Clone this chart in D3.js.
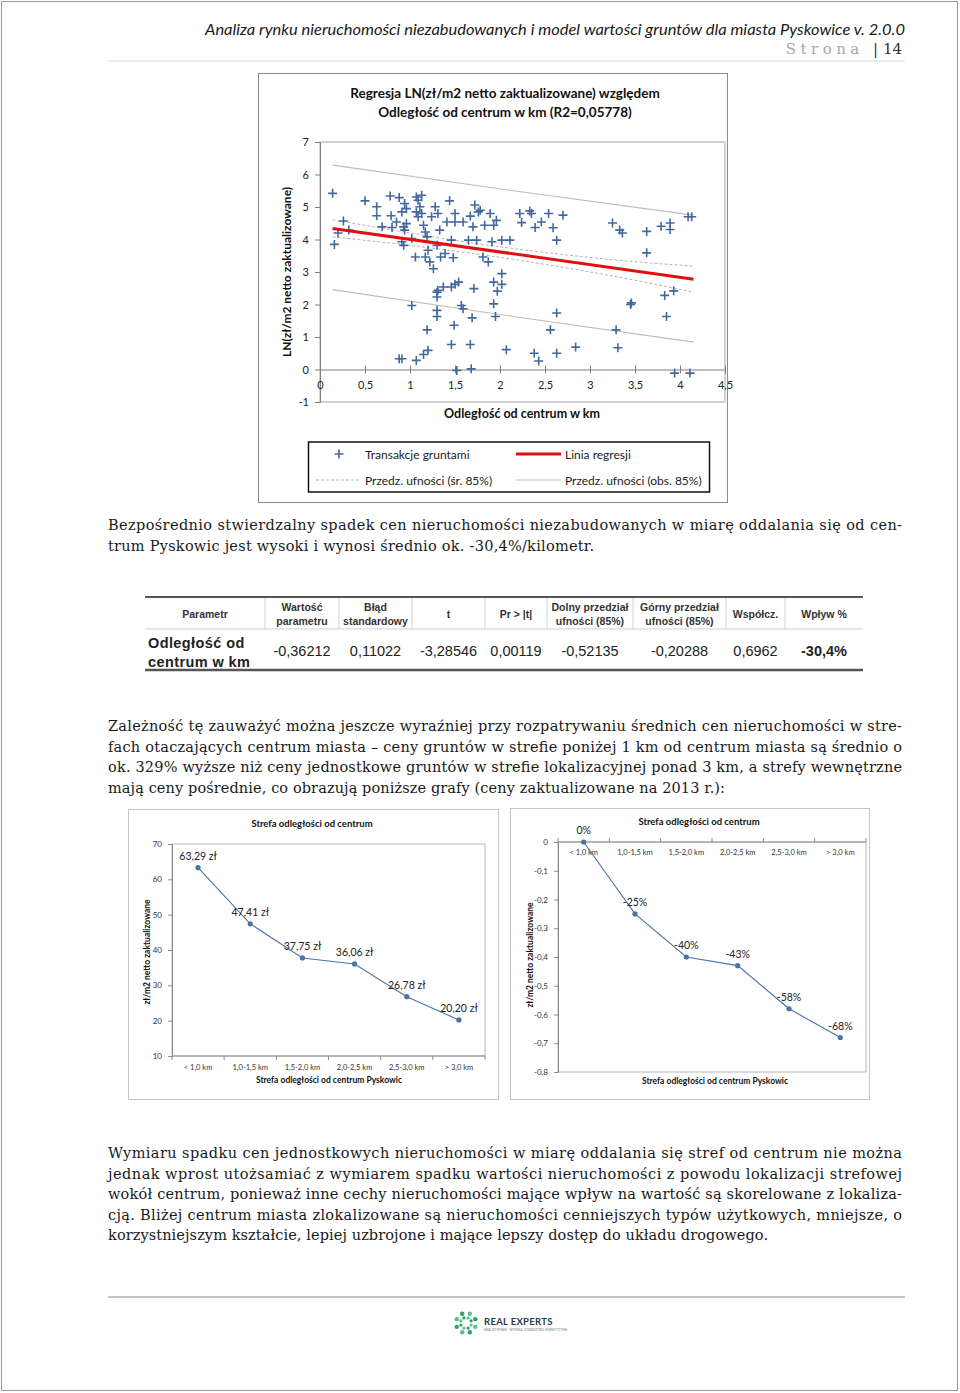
<!DOCTYPE html>
<html>
<head>
<meta charset="utf-8">
<script src="https://cdn.jsdelivr.net/npm/d3@7"></script>
<style>
  body { margin: 0; background: #fff; }
  svg { display: block; }
</style>
</head>
<body>
<div id="page"></div>
<script>
// --- dane wykresu regresji ---
const transakcje = [
  [0.14,5.42],[0.16,3.85],[0.20,4.20],[0.26,4.57],[0.32,4.29],[0.50,5.19],[0.63,5.01],[0.63,4.73],
  [0.69,4.39],[0.78,5.34],[0.79,4.73],[0.80,4.37],[0.85,4.54],[0.88,5.29],[0.91,4.85],[0.91,3.93],
  [0.93,3.82],[0.93,4.39],[0.94,5.11],[0.94,4.29],[0.96,4.95],[0.96,4.49],[1.02,4.03],[1.06,3.46],
  [1.07,5.31],[1.07,4.85],[1.09,5.21],[1.09,4.70],[1.11,5.01],[1.13,5.36],[1.13,4.80],[1.15,4.44],
  [1.17,3.46],[1.17,4.23],[1.19,4.08],[1.20,3.67],[1.22,3.31],[1.24,4.70],[1.26,3.10],[1.28,5.01],
  [1.30,3.82],[1.31,4.80],[1.33,4.29],[1.34,3.46],[1.39,3.57],[1.41,4.54],[1.44,5.19],[1.46,3.98],
  [1.48,3.44],[1.50,4.80],[1.50,4.54],[1.59,4.54],[1.65,3.98],[1.67,4.72],[1.70,4.39],[1.72,5.06],
  [1.74,3.98],[1.76,4.85],[1.78,4.90],[1.81,3.46],[1.83,4.44],[1.87,3.31],[1.89,4.80],[1.91,3.93],
  [1.93,4.44],[1.96,4.59],[2.02,3.98],[2.11,3.98],[2.22,4.80],[2.24,4.52],[2.33,4.88],[2.35,4.80],
  [2.39,4.37],[2.46,4.54],[2.54,4.80],[2.59,4.36],[2.63,3.98],[2.70,4.75],[3.25,4.51],[3.33,4.29],
  [3.36,4.20],[3.63,4.25],[3.63,3.59],[3.79,4.41],[3.89,4.51],[3.89,4.31],[4.09,4.70],[4.13,4.70],
  [1.31,2.44],[1.30,2.38],[1.37,2.54],[1.46,2.54],[1.50,2.62],[1.54,2.69],[1.71,2.49],[1.93,2.69],
  [2.02,2.95],[2.02,2.62],[1.97,2.41],
  [0.88,0.33],[0.91,0.33],[1.02,1.97],[1.07,0.28],[1.15,0.46],[1.19,1.22],[1.20,0.59],[1.30,2.23],
  [1.30,1.82],[1.30,1.63],[1.46,0.77],[1.49,1.36],[1.52,-0.03],[1.57,1.97],[1.59,1.87],[1.67,0.77],
  [1.69,1.59],[1.68,0.02],[1.93,2.02],[1.95,1.63],[2.07,0.61],[2.38,0.50],[2.43,0.26],[2.56,1.22],
  [2.63,1.74],[2.63,0.50],[2.84,0.69],[3.29,1.22],[3.31,0.67],[3.46,2.05],[3.45,2.00],[3.85,1.63],
  [3.94,-0.11],[4.11,-0.11],[3.83,2.28],[3.93,2.42]
];
const liniaRegresji = [[0.14,4.34],[4.15,2.78]];
const przedzSrGorny = [[0.14,4.61],[1.0,4.20],[1.8,3.85],[2.6,3.57],[3.4,3.34],[4.15,3.18]];
const przedzSrDolny = [[0.14,4.08],[1.0,3.82],[1.8,3.53],[2.6,3.19],[3.4,2.80],[4.15,2.38]];
const przedzObsGorny = [[0.14,6.29],[2.15,5.50],[4.15,4.75]];
const przedzObsDolny = [[0.14,2.46],[2.15,1.63],[4.15,0.84]];
const ticksX = [0, 0.5, 1, 1.5, 2, 2.5, 3, 3.5, 4, 4.5];
const ticksY = [-1, 0, 1, 2, 3, 4, 5, 6, 7];

// --- tabela parametrow ---
const kolumny = ["Parametr", "Wartość\nparametru", "Błąd\nstandardowy", "t", "Pr > |t|",
  "Dolny przedział\nufności (85%)", "Górny przedział\nufności (85%)", "Współcz.", "Wpływ %"];
const wiersz = ["Odległość od\ncentrum w km", "-0,36212", "0,11022", "-3,28546", "0,00119",
  "-0,52135", "-0,20288", "0,6962", "-30,4%"];

// --- strefy ---
const strefy = ["< 1,0 km", "1,0-1,5 km", "1,5-2,0 km", "2,0-2,5 km", "2,5-3,0 km", "> 3,0 km"];
const cenyStref = [63.29, 47.41, 37.75, 36.06, 26.78, 20.20];
const spadekStref = [0, -0.25, -0.40, -0.43, -0.58, -0.68];
const ticksCeny = [10, 20, 30, 40, 50, 60, 70];
const ticksSpadek = [-0.8, -0.7, -0.6, -0.5, -0.4, -0.3, -0.2, -0.1, 0];

// --- teksty ---
const naglowek = "Analiza rynku nieruchomości niezabudowanych i model wartości gruntów dla miasta Pyskowice v. 2.0.0";
const akapit1 = [
  "Bezpośrednio stwierdzalny spadek cen nieruchomości niezabudowanych w miarę oddalania się od cen-",
  "trum Pyskowic jest wysoki i wynosi średnio ok. -30,4%/kilometr."
];
const akapit2 = [
  "Zależność tę zauważyć można jeszcze wyraźniej przy rozpatrywaniu średnich cen nieruchomości w stre-",
  "fach otaczających centrum miasta – ceny gruntów w strefie poniżej 1 km od centrum miasta są średnio o",
  "ok. 329% wyższe niż ceny jednostkowe gruntów w strefie lokalizacyjnej ponad 3 km, a strefy wewnętrzne",
  "mają ceny pośrednie, co obrazują poniższe grafy (ceny zaktualizowane na 2013 r.):"
];
const akapit3 = [
  "Wymiaru spadku cen jednostkowych nieruchomości w miarę oddalania się stref od centrum nie można",
  "jednak wprost utożsamiać z wymiarem spadku wartości nieruchomości z powodu lokalizacji strefowej",
  "wokół centrum, ponieważ inne cechy nieruchomości mające wpływ na wartość są skorelowane z lokaliza-",
  "cją. Bliżej centrum miasta zlokalizowane są nieruchomości cenniejszych typów użytkowych, mniejsze, o",
  "korzystniejszym kształcie, lepiej uzbrojone i mające lepszy dostęp do układu drogowego."
];

const comma = d => String(d).replace(".", ",");
const SANS = "Lato, 'Open Sans', sans-serif";
const SERIF = "'DejaVu Serif', serif";
const ARIAL = "'Liberation Sans', Arial, sans-serif";

const svg = d3.select("#page").append("svg")
  .attr("width", 960).attr("height", 1393)
  .attr("viewBox", [0, 0, 960, 1393]);

// ramka strony
svg.append("rect").attr("x", 1.5).attr("y", 1.5).attr("width", 956).attr("height", 1389)
  .attr("fill", "none").attr("stroke", "#9a9a9a");

// naglowek
svg.append("text").attr("x", 905).attr("y", 35).attr("text-anchor", "end")
  .attr("textLength", 700).attr("lengthAdjust", "spacingAndGlyphs")
  .style("font", "italic 14.5px " + SANS).attr("fill", "#1a1a1a").text(naglowek);
const strona = svg.append("text").attr("x", 902).attr("y", 54).attr("text-anchor", "end")
  .style("font-family", SERIF).style("font-size", "15px");
strona.append("tspan").attr("fill", "#a6a6a6").attr("letter-spacing", "4.5px").text("Strona ");
strona.append("tspan").attr("fill", "#333").text("| 14");
svg.append("line").attr("x1", 108).attr("x2", 905).attr("y1", 61).attr("y2", 61)
  .attr("stroke", "#d8d8d8").attr("stroke-width", 1.2);

// ========== wykres regresji ==========
const sc = svg.append("g");
sc.append("rect").attr("x", 258.5).attr("y", 73.5).attr("width", 469).attr("height", 429)
  .attr("fill", "none").attr("stroke", "#8c8c8c");

const x = d3.scaleLinear().domain([0, 4.5]).range([320, 725]);
const y = d3.scaleLinear().domain([-1, 7]).range([402, 142]);

sc.append("text").attr("x", 505).attr("y", 98).attr("text-anchor", "middle")
  .style("font", "bold 13.5px " + SANS).attr("fill", "#111")
  .text("Regresja LN(zł/m2 netto zaktualizowane) względem");
sc.append("text").attr("x", 505).attr("y", 117).attr("text-anchor", "middle")
  .style("font", "bold 13.5px " + SANS).attr("fill", "#111")
  .text("Odległość od centrum w km (R2=0,05778)");

sc.append("rect").attr("x", x(0)).attr("y", y(7)).attr("width", x(4.5) - x(0)).attr("height", y(-1) - y(7))
  .attr("fill", "none").attr("stroke", "#a6a6a6");

const yAx = sc.append("g").attr("transform", `translate(${x(0)},0)`)
  .call(d3.axisLeft(y).tickValues(ticksY).tickSize(5).tickPadding(6).tickFormat(comma));
yAx.select(".domain").attr("stroke", "#7f7f7f");
yAx.selectAll(".tick line").attr("stroke", "#7f7f7f");
yAx.selectAll("text").style("font", "11px " + SANS).attr("fill", "#222");

const xAx = sc.append("g").attr("transform", `translate(0,${y(0)})`)
  .call(d3.axisBottom(x).tickValues(ticksX).tickSize(4).tickPadding(8).tickFormat(comma));
xAx.select(".domain").attr("stroke", "#7f7f7f");
xAx.selectAll(".tick line").attr("stroke", "#7f7f7f").attr("y1", -4).attr("y2", 4);
xAx.selectAll("text").style("font", "11px " + SANS).attr("fill", "#222");

sc.append("text").attr("transform", "translate(291,272) rotate(-90)").attr("text-anchor", "middle")
  .style("font", "bold 12px " + SANS).attr("fill", "#111").text("LN(zł/m2 netto zaktualizowane)");
sc.append("text").attr("x", 522).attr("y", 418).attr("text-anchor", "middle")
  .style("font", "bold 12.5px " + SANS).attr("fill", "#111").text("Odległość od centrum w km");

const line = d3.line().x(d => x(d[0])).y(d => y(d[1])).curve(d3.curveMonotoneX);
[przedzObsGorny, przedzObsDolny].forEach(p =>
  sc.append("path").attr("d", line(p)).attr("fill", "none").attr("stroke", "#bdbdbd").attr("stroke-width", 1.2));
[przedzSrGorny, przedzSrDolny].forEach(p =>
  sc.append("path").attr("d", line(p)).attr("fill", "none").attr("stroke", "#b5b5b5")
    .attr("stroke-width", 1).attr("stroke-dasharray", "3,2"));

const plus = "M-4.5,0H4.5M0,-4.5V4.5";
sc.append("g").selectAll("path").data(transakcje).join("path")
  .attr("transform", d => `translate(${x(d[0])},${y(d[1])})`)
  .attr("d", plus).attr("stroke", "#44689e").attr("stroke-width", 1.6).attr("fill", "none");

sc.append("path").attr("d", line(liniaRegresji)).attr("fill", "none")
  .attr("stroke", "#e01010").attr("stroke-width", 3);

// legenda
const lg = sc.append("g");
lg.append("rect").attr("x", 308.5).attr("y", 442).attr("width", 401).attr("height", 50)
  .attr("fill", "#fff").attr("stroke", "#111").attr("stroke-width", 1.5);
lg.append("path").attr("transform", "translate(339,454)").attr("d", plus)
  .attr("stroke", "#44689e").attr("stroke-width", 1.6);
lg.append("line").attr("x1", 516).attr("x2", 561).attr("y1", 454).attr("y2", 454)
  .attr("stroke", "#e01010").attr("stroke-width", 3);
lg.append("line").attr("x1", 316).attr("x2", 361).attr("y1", 480).attr("y2", 480)
  .attr("stroke", "#b5b5b5").attr("stroke-dasharray", "3,2");
lg.append("line").attr("x1", 516).attr("x2", 561).attr("y1", 480).attr("y2", 480)
  .attr("stroke", "#bdbdbd").attr("stroke-width", 1.2);
[["Transakcje gruntami", 365, 459], ["Linia regresji", 565, 459],
 ["Przedz. ufności (śr. 85%)", 365, 485], ["Przedz. ufności (obs. 85%)", 565, 485]]
  .forEach(([t, tx, ty]) => lg.append("text").attr("x", tx).attr("y", ty)
    .style("font", "12px " + SANS).attr("fill", "#222").text(t));

// ========== akapity ==========
function akapit(lines, y0, lastWidth) {
  lines.forEach((t, i) => {
    const last = i === lines.length - 1;
    svg.append("text").attr("x", 108).attr("y", y0 + i * 20.5)
      .attr("textLength", last ? lastWidth : 794).attr("lengthAdjust", "spacing")
      .style("font", "14.5px " + SERIF).attr("fill", "#1a1a1a").text(t);
  });
}
akapit(akapit1, 530, 486);
akapit(akapit2, 731, 617);
akapit(akapit3, 1158, 660);

// ========== tabela ==========
const colEdges = [145, 265, 339, 412, 485, 547, 633, 726, 785, 863];
const tb = svg.append("g");
colEdges.slice(1, -1).forEach(cx => tb.append("line").attr("x1", cx).attr("x2", cx)
  .attr("y1", 598).attr("y2", 629).attr("stroke", "#d0d0d0"));
tb.append("line").attr("x1", 145).attr("x2", 863).attr("y1", 629).attr("y2", 629).attr("stroke", "#cfcfcf");
tb.append("line").attr("x1", 145).attr("x2", 863).attr("y1", 597).attr("y2", 597).attr("stroke", "#555").attr("stroke-width", 2);
tb.append("line").attr("x1", 145).attr("x2", 863).attr("y1", 670).attr("y2", 670).attr("stroke", "#555").attr("stroke-width", 2.5);
kolumny.forEach((k, i) => {
  const cx = (colEdges[i] + colEdges[i + 1]) / 2;
  const parts = k.split("\n");
  parts.forEach((p, j) => tb.append("text").attr("x", cx)
    .attr("y", parts.length === 1 ? 618 : 611 + j * 14).attr("text-anchor", "middle")
    .style("font", "bold 10.5px " + ARIAL).attr("fill", "#333").text(p));
});
wiersz.forEach((w, i) => {
  if (i === 0) {
    w.split("\n").forEach((p, j) => tb.append("text").attr("x", 148).attr("y", 648 + j * 19)
      .attr("letter-spacing", "0.4px")
      .style("font", "bold 14.5px " + ARIAL).attr("fill", "#222").text(p));
  } else {
    tb.append("text").attr("x", (colEdges[i] + colEdges[i + 1]) / 2).attr("y", 656)
      .attr("text-anchor", "middle")
      .style("font", (i === wiersz.length - 1 ? "bold " : "") + "14.5px " + ARIAL)
      .attr("fill", "#222").text(w);
  }
});

// ========== wykresy stref ==========
function strefaChart(o) {
  const g = svg.append("g");
  g.append("rect").attr("x", o.frame[0] + 0.5).attr("y", o.frame[1] + 0.5)
    .attr("width", o.frame[2]).attr("height", o.frame[3])
    .attr("fill", "none").attr("stroke", "#c4c4c4");
  const bx = d3.scaleBand().domain(strefy).range([o.plot[0], o.plot[2]]);
  const by = d3.scaleLinear().domain(o.domain).range([o.plot[3], o.plot[1]]);
  g.append("rect").attr("x", o.plot[0]).attr("y", o.plot[1])
    .attr("width", o.plot[2] - o.plot[0]).attr("height", o.plot[3] - o.plot[1])
    .attr("fill", "none").attr("stroke", "#b8b8b8");

  const ya = g.append("g").attr("transform", `translate(${o.plot[0]},0)`)
    .call(d3.axisLeft(by).tickValues(o.ticks).tickSize(4).tickPadding(6).tickFormat(comma));
  ya.select(".domain").attr("stroke", "#8c8c8c");
  ya.selectAll(".tick line").attr("stroke", "#8c8c8c");
  ya.selectAll("text").style("font", "8px " + SANS).attr("fill", "#333");

  const axisY = by(o.axisAt);
  g.append("line").attr("x1", o.plot[0]).attr("x2", o.plot[2]).attr("y1", axisY).attr("y2", axisY)
    .attr("stroke", "#8c8c8c");
  d3.range(strefy.length + 1).forEach(i => {
    const tx = o.plot[0] + i * bx.step();
    g.append("line").attr("x1", tx).attr("x2", tx).attr("y1", axisY + o.tickDir[0]).attr("y2", axisY + o.tickDir[1])
      .attr("stroke", "#8c8c8c");
  });
  g.selectAll(".cat").data(strefy).join("text")
    .attr("x", d => bx(d) + bx.bandwidth() / 2).attr("y", axisY + o.catDy)
    .attr("text-anchor", "middle").style("font", "7.5px " + SANS).attr("fill", "#333").text(d => d);

  const pts = o.values.map((v, i) => [bx(strefy[i]) + bx.bandwidth() / 2, by(v)]);
  g.append("path").attr("d", d3.line()(pts)).attr("fill", "none").attr("stroke", "#4a74a8").attr("stroke-width", 1.1);
  g.selectAll("circle").data(pts).join("circle").attr("cx", d => d[0]).attr("cy", d => d[1])
    .attr("r", 2.6).attr("fill", "#4a74a8");
  g.selectAll(".lab").data(o.values).join("text")
    .attr("x", (d, i) => pts[i][0] + o.labDx).attr("y", (d, i) => pts[i][1] - 8)
    .attr("text-anchor", "middle").style("font", "10.5px " + SANS).attr("fill", "#222").text(o.label);

  g.append("text").attr("x", o.titleX).attr("y", o.titleY).attr("text-anchor", "middle")
    .style("font", "bold 9.5px " + SANS).attr("fill", "#111").text("Strefa odległości od centrum");
  g.append("text").attr("x", o.xTitleX).attr("y", o.xTitleY).attr("text-anchor", "middle")
    .style("font", "bold 8.5px " + SANS).attr("fill", "#111").text("Strefa odległości od centrum Pyskowic");
  g.append("text").attr("transform", `translate(${o.yTitle[0]},${o.yTitle[1]}) rotate(-90)`)
    .attr("text-anchor", "middle").style("font", "bold 8.5px " + SANS).attr("fill", "#111")
    .text("zł/m2 netto zaktualizowane");
}

strefaChart({
  frame: [128, 809, 370, 290], plot: [172, 844, 485, 1056], domain: [10, 70], ticks: ticksCeny,
  values: cenyStref, axisAt: 10, tickDir: [0, 4], catDy: 14, labDx: 0,
  label: d => d3.format(".2f")(d).replace(".", ",") + " zł",
  titleX: 312, titleY: 827, xTitleX: 329, xTitleY: 1083, yTitle: [150, 952]
});
strefaChart({
  frame: [510, 808, 359, 291], plot: [558, 842, 866, 1072], domain: [-0.8, 0], ticks: ticksSpadek,
  values: spadekStref, axisAt: 0, tickDir: [-4, 0], catDy: 13, labDx: 0,
  label: d => Math.round(d * 100) + "%",
  titleX: 699, titleY: 825, xTitleX: 715, xTitleY: 1084, yTitle: [533, 955]
});

// ========== stopka ==========
svg.append("line").attr("x1", 108).attr("x2", 905).attr("y1", 1297).attr("y2", 1297)
  .attr("stroke", "#8a8a8a").attr("stroke-width", 1.2);
const logo = svg.append("g").attr("transform", "translate(466,1323)");
d3.range(8).forEach(i => {
  const a = i * Math.PI / 4 + Math.PI / 8;
  [5.5, 10].forEach((r, j) => logo.append("circle")
    .attr("cx", Math.cos(a) * r).attr("cy", Math.sin(a) * r).attr("r", j ? 2.2 : 1.6)
    .attr("fill", i % 2 ? "#2f9e6b" : "#5fbf8a"));
});
svg.append("text").attr("x", 484).attr("y", 1325).style("font", "bold 9.5px " + SANS)
  .attr("fill", "#2b3a4a").attr("letter-spacing", "0.3px").text("REAL EXPERTS");
svg.append("text").attr("x", 484).attr("y", 1331).style("font", "3px " + SANS)
  .attr("fill", "#777").text("ANALIZY RYNKU · WYCENA · DORADZTWO INWESTYCYJNE");
</script>
</body>
</html>
